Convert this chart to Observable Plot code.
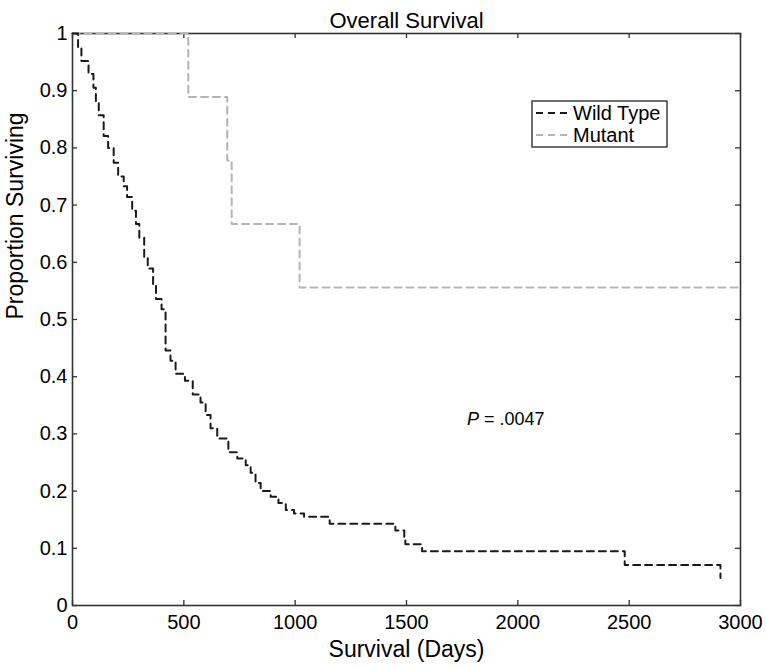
<!DOCTYPE html>
<html>
<head>
<meta charset="utf-8">
<script src="https://cdn.jsdelivr.net/npm/d3@7"></script>
<script src="https://cdn.jsdelivr.net/npm/@observablehq/plot@0.6"></script>
<style>
  body { margin: 0; background: white; }
</style>
</head>
<body>
<div id="chart"></div>
<script>
// ---- data ----
const wildTimes = [0, 25, 40, 72, 94, 105, 118, 140, 160, 185, 205, 230, 245, 268, 285, 300, 322, 338, 362, 375, 400, 418, 440, 463, 505, 540, 575, 598, 620, 650, 700, 740, 778, 800, 822, 845, 890, 925, 958, 995, 1040, 1155, 1450, 1490, 1495, 1570, 2480, 2910];
const wildSurv  = [1, 0.976, 0.952, 0.929, 0.905, 0.881, 0.857, 0.821, 0.800, 0.774, 0.750, 0.733, 0.714, 0.690, 0.667, 0.643, 0.607, 0.589, 0.560, 0.536, 0.518, 0.446, 0.428, 0.405, 0.393, 0.369, 0.355, 0.333, 0.310, 0.292, 0.268, 0.257, 0.245, 0.232, 0.214, 0.200, 0.190, 0.179, 0.167, 0.161, 0.155, 0.143, 0.131, 0.119, 0.107, 0.095, 0.071, 0.048];
const mutTimes = [0, 520, 695, 715, 1020, 3000];
const mutSurv  = [1, 0.889, 0.778, 0.667, 0.556, 0.556];
const seriesNames = ["Wild Type", "Mutant"];
const seriesColors = ["#1a1a1a", "#b5b5b5"];
const xTicks = [0, 500, 1000, 1500, 2000, 2500, 3000];
const xTickLabels = ["0", "500", "1000", "1500", "2000", "2500", "3000"];
const yTicks = [0, 0.1, 0.2, 0.3, 0.4, 0.5, 0.6, 0.7, 0.8, 0.9, 1];
const yTickLabels = ["0", "0.1", "0.2", "0.3", "0.4", "0.5", "0.6", "0.7", "0.8", "0.9", "1"];
const titleText = "Overall Survival";
const xLabel = "Survival (Days)";
const yLabel = "Proportion Surviving";
const pLabel = {prefix: "P", rest: " = .0047", x: 1774, y: 0.325};

const wild = wildTimes.map((t, i) => ({t, s: wildSurv[i]}));
const mut = mutTimes.map((t, i) => ({t, s: mutSurv[i]}));

const W = 766, H = 667, mL = 72, mR = 26, mT = 33, mB = 62;
const pw = W - mL - mR, ph = H - mT - mB;
const tick = 5;
const font = "Liberation Sans, Arial, Helvetica, sans-serif";

const chart = Plot.plot({
  width: W, height: H,
  marginLeft: mL, marginRight: mR, marginTop: mT, marginBottom: mB,
  style: {fontFamily: font, background: "white", color: "#000"},
  x: {domain: [0, 3000], label: null},
  y: {domain: [0, 1], label: null},
  marks: [
    Plot.axisX({anchor: "bottom", ticks: xTicks, tickSize: 0, tickPadding: 9, fontSize: 20,
      tickFormat: d => xTickLabels[xTicks.indexOf(d)], label: null}),
    Plot.axisY({anchor: "left", ticks: yTicks, tickSize: 0, tickPadding: 5, fontSize: 20,
      tickFormat: d => yTickLabels[yTicks.indexOf(d)], label: null}),
    // inward ticks on all four sides
    Plot.tickX(xTicks, {x: d => d, insetTop: ph - tick, stroke: "#333", strokeWidth: 1.3}),
    Plot.tickX(xTicks, {x: d => d, insetBottom: ph - tick, stroke: "#333", strokeWidth: 1.3}),
    Plot.tickY(yTicks, {y: d => d, insetRight: pw - tick, stroke: "#333", strokeWidth: 1.3}),
    Plot.tickY(yTicks, {y: d => d, insetLeft: pw - tick, stroke: "#333", strokeWidth: 1.3}),
    Plot.frame({stroke: "#333", strokeWidth: 1.6}),
    Plot.line(mut, {x: "t", y: "s", curve: "step-after", stroke: seriesColors[1], strokeWidth: 2, strokeDasharray: "7,5"}),
    Plot.line(wild, {x: "t", y: "s", curve: "step-after", stroke: seriesColors[0], strokeWidth: 2, strokeDasharray: "7,5"}),
    Plot.text([titleText], {frameAnchor: "top", dy: -21, fontSize: 22, fill: "#000"}),
    Plot.text([xLabel], {frameAnchor: "bottom", dy: 51, fontSize: 23, fill: "#000"}),
    Plot.text([yLabel], {frameAnchor: "left", dx: -57, rotate: -90, fontSize: 23, fill: "#000"})
  ]
});
document.getElementById("chart").appendChild(chart);

// ---- legend and annotation (decorations) ----
const svg = d3.select(chart);
const sx = chart.scale("x"), sy = chart.scale("y");
const lg = svg.append("g").attr("font-family", font).attr("font-size", 20).attr("text-anchor", "start");
const box = {x: mL + 460, y: mT + 68, w: 135, h: 46};
lg.append("rect").attr("x", box.x).attr("y", box.y).attr("width", box.w).attr("height", box.h)
  .attr("fill", "white").attr("stroke", "#222").attr("stroke-width", 1.3);
seriesNames.forEach((name, i) => {
  const cy = box.y + 12 + i * 22;
  lg.append("line").attr("x1", box.x + 4).attr("x2", box.x + 39).attr("y1", cy).attr("y2", cy)
    .attr("stroke", seriesColors[i]).attr("stroke-width", 2).attr("stroke-dasharray", "7,5");
  lg.append("text").attr("x", box.x + 41).attr("y", cy).attr("dy", "0.35em").attr("fill", "#000").text(name);
});
const pt = svg.append("text").attr("font-family", font).attr("font-size", 18).attr("fill", "#000")
  .attr("text-anchor", "start")
  .attr("x", sx.apply(pLabel.x)).attr("y", sy.apply(pLabel.y)).attr("dy", "0.35em");
pt.append("tspan").attr("font-style", "italic").text(pLabel.prefix);
pt.append("tspan").text(pLabel.rest);
</script>
</body>
</html>
